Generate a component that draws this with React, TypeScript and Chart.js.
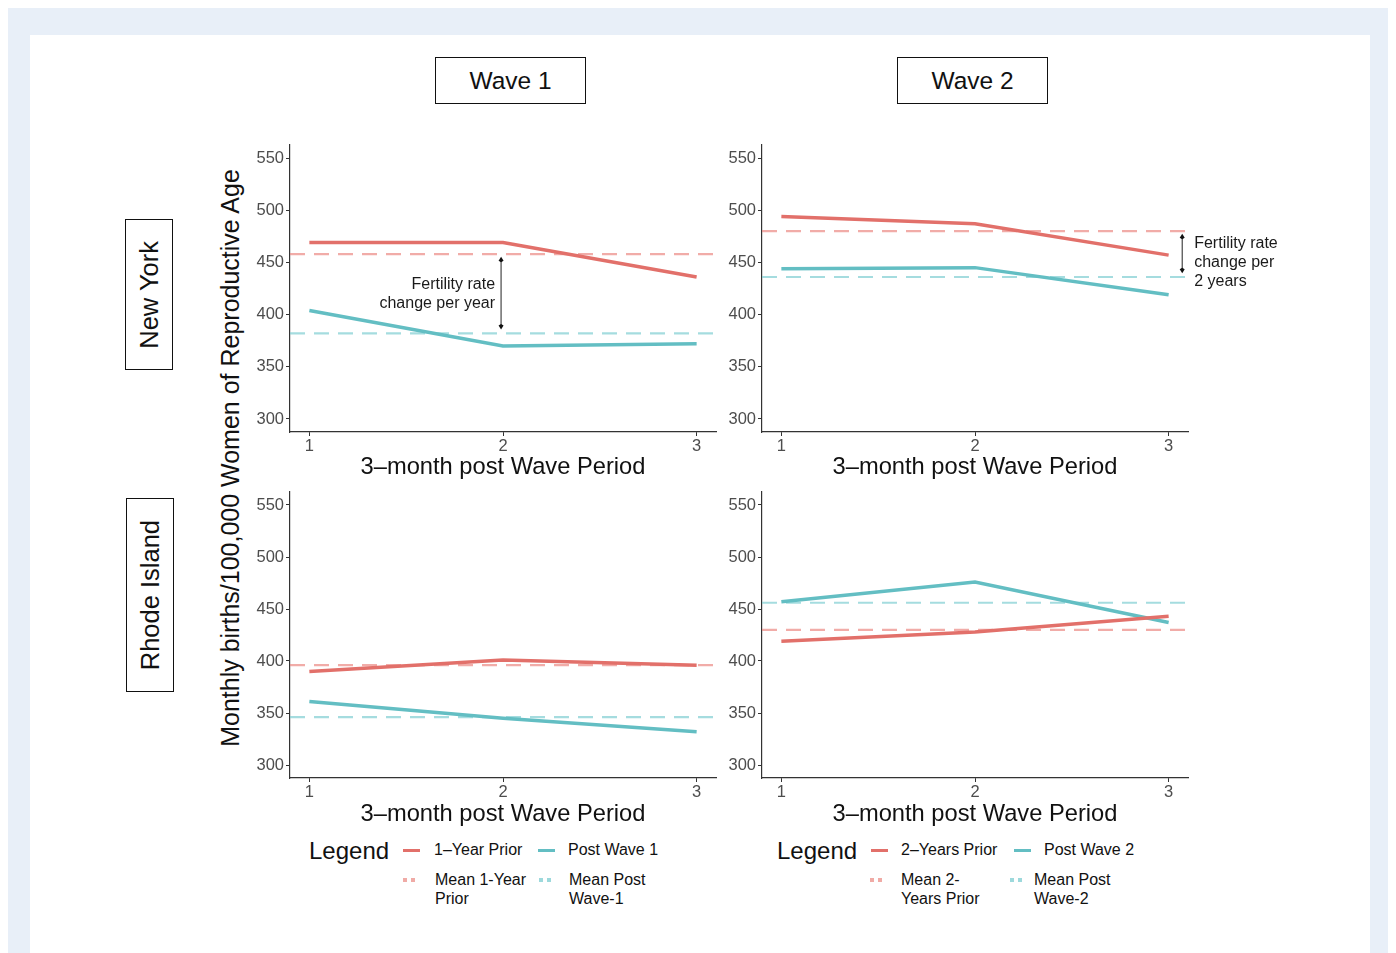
import React, { useEffect, useRef } from "react";
import { Chart, registerables } from "chart.js";
Chart.register(...registerables);

// ---------- data ----------
const periods = [1, 2, 3];
const xTicks = [1, 2, 3];
const yTicks = [300, 350, 400, 450, 500, 550];
const X_MIN = 0.9;
const X_MAX = 3.1;
const Y_MIN = 287.5;
const Y_MAX = 562.5;

const nyWave1Prior = [469, 469, 436];
const nyWave1Post = [404, 370, 372];
const nyWave1PriorMean = 458;
const nyWave1PostMean = 382;

const nyWave2Prior = [494, 487, 457];
const nyWave2Post = [444, 445, 419];
const nyWave2PriorMean = 480;
const nyWave2PostMean = 436;

const riWave1Prior = [390, 401, 396];
const riWave1Post = [361, 345, 332];
const riWave1PriorMean = 396;
const riWave1PostMean = 346;

const riWave2Prior = [419, 428, 443];
const riWave2Post = [457, 476, 437];
const riWave2PriorMean = 430;
const riWave2PostMean = 456;

const nyWave1Arrow = { x: 1.99, from: 453, to: 388, lines: ["Fertility rate", "change per year"] };
const nyWave2Arrow = { x: 3.07, from: 475, to: 442, lines: ["Fertility rate", "change per", "2 years"] };

// ---------- style ----------
const RED = "#e2706a";
const TEAL = "#63bec3";
const RED_LIGHT = "rgba(236,140,134,0.72)";
const TEAL_LIGHT = "rgba(130,206,210,0.72)";
const FONT = "'Liberation Sans', Arial, Helvetica, sans-serif";
const OFF = 8; // body margin

type Ann = { x: number; from: number; to: number; lines: string[] };

const annotationPlugin = {
  id: "arrowAnn",
  afterDatasetsDraw(chart: any) {
    const opts = chart.options.plugins.arrowAnn;
    if (!opts || !opts.ann) return;
    const ann: Ann = opts.ann;
    const { ctx, scales } = chart;
    const px = scales.x.getPixelForValue(ann.x);
    const y1 = scales.y.getPixelForValue(ann.from);
    const y2 = scales.y.getPixelForValue(ann.to);
    ctx.save();
    ctx.strokeStyle = "#222";
    ctx.fillStyle = "#111";
    ctx.lineWidth = 1;
    ctx.beginPath();
    ctx.moveTo(px, y1);
    ctx.lineTo(px, y2);
    ctx.stroke();
    const head = (y: number, dir: number) => {
      ctx.beginPath();
      ctx.moveTo(px, y - dir * 2.5);
      ctx.lineTo(px - 2.5, y + dir * 1.5);
      ctx.lineTo(px, y + dir * 3);
      ctx.lineTo(px + 2.5, y + dir * 1.5);
      ctx.closePath();
      ctx.fill();
    };
    head(y1, 1);
    head(y2, -1);
    ctx.font = `16px ${FONT}`;
    ctx.fillStyle = "#1a1a1a";
    ctx.textBaseline = "middle";
    ctx.textAlign = opts.align;
    ann.lines.forEach((l, i) => {
      ctx.fillText(l, px + opts.dx, y1 + opts.dy + i * 19);
    });
    ctx.restore();
  },
};

type PanelProps = {
  plotLeft: number;
  plotTop: number;
  plotW: number;
  plotH: number;
  padRight: number;
  prior: number[];
  post: number[];
  priorMean: number;
  postMean: number;
  ann?: Ann;
  annAlign?: string;
  annDx?: number;
  annDy?: number;
};

function Panel(p: PanelProps) {
  const ref = useRef<HTMLCanvasElement>(null);
  const padL = 60,
    padT = 12,
    padB = 32;
  useEffect(() => {
    const pts = (arr: number[]) => periods.map((x, i) => ({ x, y: arr[i] }));
    const flat = (v: number) => [
      { x: X_MIN, y: v },
      { x: X_MAX, y: v },
    ];
    const tickFont = { family: FONT, size: 16.5 };
    const chart = new Chart(ref.current as HTMLCanvasElement, {
      type: "line",
      data: {
        datasets: [
          { data: pts(p.prior), borderColor: RED, borderWidth: 3.5, pointRadius: 0, tension: 0 },
          { data: pts(p.post), borderColor: TEAL, borderWidth: 3.5, pointRadius: 0, tension: 0 },
          { data: flat(p.priorMean), borderColor: RED_LIGHT, borderWidth: 2.2, borderDash: [15, 9], pointRadius: 0 },
          { data: flat(p.postMean), borderColor: TEAL_LIGHT, borderWidth: 2.2, borderDash: [15, 9], pointRadius: 0 },
        ],
      } as any,
      options: {
        animation: false,
        responsive: false,
        devicePixelRatio: 1,
        layout: { padding: { top: padT, right: p.padRight, left: 0, bottom: 0 } },
        plugins: {
          legend: { display: false },
          tooltip: { enabled: false },
          arrowAnn: p.ann ? { ann: p.ann, align: p.annAlign, dx: p.annDx, dy: p.annDy } : null,
        } as any,
        scales: {
          x: {
            type: "linear",
            min: X_MIN,
            max: X_MAX,
            afterBuildTicks: (s: any) => {
              s.ticks = xTicks.map((v) => ({ value: v }));
            },
            afterFit: (s: any) => {
              s.height = padB;
            },
            grid: { drawOnChartArea: false, drawTicks: true, tickLength: 4, color: "#333" },
            border: { display: true, color: "#333", width: 1.2 },
            ticks: { font: tickFont, color: "#4d4d4d", padding: 1, maxRotation: 0, callback: (v: any) => String(v) },
          },
          y: {
            type: "linear",
            min: Y_MIN,
            max: Y_MAX,
            afterBuildTicks: (s: any) => {
              s.ticks = yTicks.map((v) => ({ value: v }));
            },
            afterFit: (s: any) => {
              s.width = padL;
            },
            grid: { drawOnChartArea: false, drawTicks: true, tickLength: 4, color: "#333" },
            border: { display: true, color: "#333", width: 1.2 },
            ticks: { font: tickFont, color: "#4d4d4d", padding: 2, callback: (v: any) => String(v) },
          },
        },
      } as any,
      plugins: [annotationPlugin],
    });
    return () => chart.destroy();
  }, []);
  return (
    <canvas
      ref={ref}
      width={padL + p.plotW + p.padRight}
      height={padT + p.plotH + padB}
      style={{ position: "absolute", left: p.plotLeft - padL - OFF, top: p.plotTop - padT - OFF }}
    />
  );
}

const abs = (x: number, y: number): React.CSSProperties => ({ position: "absolute", left: x - OFF, top: y - OFF });

function StripBox({ x, y, w, h, text }: { x: number; y: number; w: number; h: number; text: string }) {
  return (
    <div
      style={{
        ...abs(x, y),
        width: w,
        height: h,
        boxSizing: "border-box",
        border: "1.6px solid #111",
        display: "flex",
        alignItems: "center",
        justifyContent: "center",
        fontFamily: FONT,
        fontSize: 24.5,
        color: "#111",
      }}
    >
      {text}
    </div>
  );
}

function RowBox({ x, y, w, h, text }: { x: number; y: number; w: number; h: number; text: string }) {
  return (
    <div
      style={{
        ...abs(x, y),
        width: w,
        height: h,
        boxSizing: "border-box",
        border: "1.6px solid #111",
        display: "flex",
        alignItems: "center",
        justifyContent: "center",
      }}
    >
      <span
        style={{
          writingMode: "vertical-rl",
          transform: "rotate(180deg)",
          fontFamily: FONT,
          fontSize: 25.5,
          color: "#111",
          whiteSpace: "nowrap",
        }}
      >
        {text}
      </span>
    </div>
  );
}

function XTitle({ cx, cy }: { cx: number; cy: number }) {
  return (
    <div
      style={{
        ...abs(cx - 200, cy - 14),
        width: 400,
        height: 28,
        lineHeight: "28px",
        textAlign: "center",
        fontFamily: FONT,
        fontSize: 23.7,
        color: "#111",
      }}
    >
      3–month post Wave Period
    </div>
  );
}

function Legend({
  x,
  labels,
  keyX,
  textX,
  dotX,
  text2X,
}: {
  x: number;
  labels: string[][];
  keyX: number[];
  textX: number[];
  dotX: number[];
  text2X: number[];
}) {
  const txt = (lx: number, cy: number, lines: string[]) => (
    <div style={{ ...abs(lx, cy - 10), fontFamily: FONT, fontSize: 16, lineHeight: "19px", color: "#111", whiteSpace: "nowrap" }}>
      {lines.map((l, i) => (
        <div key={i}>{l}</div>
      ))}
    </div>
  );
  const dots = (dx: number, color: string) => (
    <>
      <div style={{ ...abs(dx, 878), width: 4, height: 4, background: color }} />
      <div style={{ ...abs(dx + 8, 878), width: 4, height: 4, background: color }} />
    </>
  );
  return (
    <>
      <div style={{ ...abs(x, 836), fontFamily: FONT, fontSize: 24, lineHeight: "30px", color: "#111" }}>Legend</div>
      <div style={{ ...abs(keyX[0], 849), width: 17, height: 3, background: RED }} />
      {txt(textX[0], 850, labels[0])}
      <div style={{ ...abs(keyX[1], 849), width: 17, height: 3, background: TEAL }} />
      {txt(textX[1], 850, labels[1])}
      {dots(dotX[0], "rgba(236,150,144,0.8)")}
      {txt(text2X[0], 880, labels[2])}
      {dots(dotX[1], "rgba(140,210,214,0.85)")}
      {txt(text2X[1], 880, labels[3])}
    </>
  );
}

export default function App() {
  return (
    <div style={{ position: "relative", width: 1388, height: 960, background: "#e8eff8", overflow: "hidden" }}>
      <div style={{ ...abs(30, 35), width: 1340, height: 940, background: "#ffffff" }} />

      <StripBox x={435} y={57} w={151} h={47} text="Wave 1" />
      <StripBox x={897} y={57} w={151} h={47} text="Wave 2" />
      <RowBox x={125} y={219} w={48} h={151} text="New York" />
      <RowBox x={126} y={498} w={48} h={194} text="Rhode Island" />

      <div
        style={{
          ...abs(230 - 400, 458 - 15),
          width: 800,
          height: 30,
          lineHeight: "30px",
          textAlign: "center",
          transform: "rotate(-90deg)",
          fontFamily: FONT,
          fontSize: 25,
          color: "#111",
          whiteSpace: "nowrap",
        }}
      >
        Monthly births/100,000 Women of Reproductive Age
      </div>

      <Panel
        plotLeft={290}
        plotTop={145}
        plotW={426}
        plotH={287}
        padRight={10}
        prior={nyWave1Prior}
        post={nyWave1Post}
        priorMean={nyWave1PriorMean}
        postMean={nyWave1PostMean}
        ann={nyWave1Arrow}
        annAlign="right"
        annDx={-6}
        annDy={25}
      />
      <Panel
        plotLeft={762}
        plotTop={145}
        plotW={426}
        plotH={287}
        padRight={110}
        prior={nyWave2Prior}
        post={nyWave2Post}
        priorMean={nyWave2PriorMean}
        postMean={nyWave2PostMean}
        ann={nyWave2Arrow}
        annAlign="left"
        annDx={12}
        annDy={7}
      />
      <Panel
        plotLeft={290}
        plotTop={492}
        plotW={426}
        plotH={286}
        padRight={10}
        prior={riWave1Prior}
        post={riWave1Post}
        priorMean={riWave1PriorMean}
        postMean={riWave1PostMean}
      />
      <Panel
        plotLeft={762}
        plotTop={492}
        plotW={426}
        plotH={286}
        padRight={10}
        prior={riWave2Prior}
        post={riWave2Post}
        priorMean={riWave2PriorMean}
        postMean={riWave2PostMean}
      />

      <XTitle cx={503} cy={466} />
      <XTitle cx={975} cy={466} />
      <XTitle cx={503} cy={813} />
      <XTitle cx={975} cy={813} />

      <Legend
        x={309}
        labels={[["1–Year Prior"], ["Post Wave 1"], ["Mean 1-Year", "Prior"], ["Mean Post", "Wave-1"]]}
        keyX={[403, 538]}
        textX={[434, 568]}
        dotX={[403, 539]}
        text2X={[435, 569]}
      />
      <Legend
        x={777}
        labels={[["2–Years Prior"], ["Post Wave 2"], ["Mean 2-", "Years Prior"], ["Mean Post", "Wave-2"]]}
        keyX={[871, 1014]}
        textX={[901, 1044]}
        dotX={[870, 1010]}
        text2X={[901, 1034]}
      />
    </div>
  );
}
